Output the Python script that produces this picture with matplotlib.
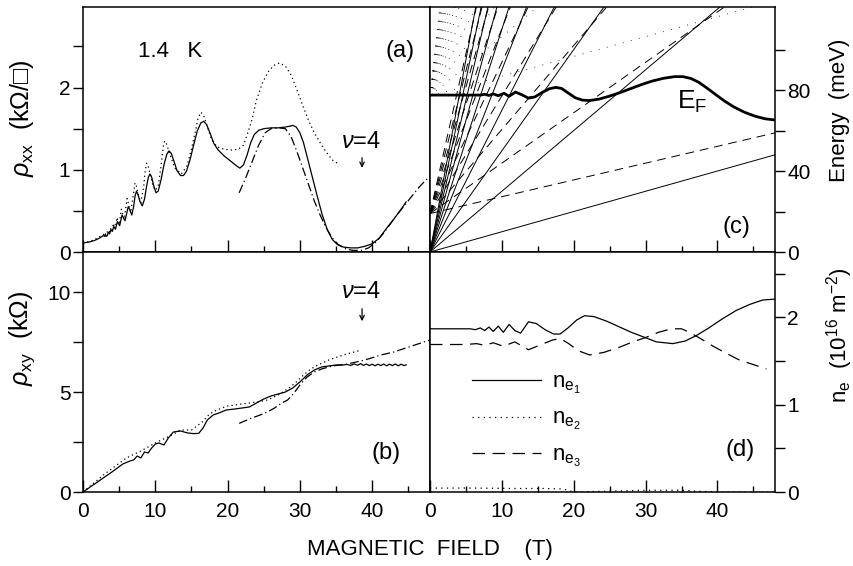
import matplotlib.pyplot as plt
from matplotlib.ticker import MultipleLocator

plt.rcParams['font.family'] = ['Liberation Sans', 'DejaVu Sans']
plt.rcParams['font.size'] = 15
plt.rcParams['mathtext.fontset'] = 'custom'
plt.rcParams['mathtext.rm'] = 'Liberation Sans'
plt.rcParams['mathtext.it'] = 'Liberation Sans:italic'

# ---------------- (a) rho_xx ----------------
rxx_meas_B = [0, 0.8, 1.6, 2.3, 2.8, 3.0, 3.1, 3.2, 3.37, 3.5, 3.68, 3.85, 4.05, 4.26, 4.5,
              4.76, 5.07, 5.4, 5.8, 6.05, 6.25, 6.45, 6.75, 7.0, 7.2, 7.4, 7.6, 7.9, 8.2,
              8.5, 8.8, 9.05, 9.26, 9.5, 9.8, 10.1, 10.4, 10.8, 11.2, 11.6, 11.9, 12.2,
              12.6, 13.0, 13.5, 13.9, 14.3, 14.8, 15.3, 15.8, 16.3, 16.7, 17.1, 17.6, 18.1,
              18.7, 19.5, 20.5, 21.2, 21.7, 22.2, 22.7, 23.2, 23.7, 24.3, 25.0, 26.0, 27.0,
              28.0, 28.6, 29.0, 29.5, 30.0, 30.5, 31.0, 31.7, 32.4, 33.1, 33.8, 34.5, 35.2,
              36.0, 37.0, 38.0, 39.0, 40.0, 41.0, 42.0, 43.0, 44.0, 44.7]
rxx_meas = [0.11, 0.12, 0.14, 0.17, 0.20, 0.19, 0.22, 0.19, 0.20, 0.24, 0.22, 0.27, 0.25,
            0.31, 0.28, 0.37, 0.32, 0.45, 0.38, 0.47, 0.55, 0.52, 0.45, 0.55, 0.68, 0.74,
            0.70, 0.61, 0.56, 0.64, 0.80, 0.91, 0.95, 0.91, 0.80, 0.72, 0.74, 0.88, 1.06,
            1.19, 1.23, 1.20, 1.10, 0.99, 0.93, 0.93, 0.98, 1.12, 1.30, 1.47, 1.57, 1.59,
            1.55, 1.44, 1.32, 1.24, 1.17, 1.10, 1.05, 1.02, 1.06, 1.18, 1.33, 1.43, 1.48,
            1.50, 1.51, 1.51, 1.52, 1.53, 1.54, 1.52, 1.45, 1.33, 1.16, 0.92, 0.68, 0.45,
            0.27, 0.15, 0.09, 0.06, 0.05, 0.05, 0.07, 0.10, 0.17, 0.29, 0.40, 0.52, 0.61]

rxx_dot_B = [0, 1.0, 2.0, 2.8, 3.3, 3.45, 3.6, 3.8, 4.0, 4.2, 4.45, 4.7, 5.0, 5.3, 5.7,
             6.1, 6.6, 7.0, 7.2, 7.4, 7.7, 8.0, 8.4, 8.6, 8.8, 9.0, 9.3, 9.7, 10.0, 10.4,
             10.8, 11.1, 11.3, 11.5, 11.9, 12.7, 13.6, 14.4, 15.0, 15.5, 15.9, 16.3, 16.7,
             17.2, 17.8, 18.5, 19.5, 20.5, 21.5, 22.2, 22.8, 23.4, 24.0, 24.8, 25.6, 26.4,
             27.2, 28.0, 28.8, 29.6, 30.4, 31.2, 32.0, 32.8, 33.6, 34.5, 35.5]
rxx_dot = [0.11, 0.13, 0.17, 0.21, 0.24, 0.25, 0.23, 0.29, 0.25, 0.35, 0.28, 0.42, 0.33,
           0.52, 0.40, 0.65, 0.48, 0.72, 0.84, 0.80, 0.68, 0.60, 0.80, 0.98, 1.08, 1.05,
           0.95, 0.80, 0.75, 0.80, 1.05, 1.28, 1.35, 1.33, 1.22, 1.02, 0.95, 1.05, 1.25,
           1.45, 1.62, 1.70, 1.66, 1.52, 1.37, 1.28, 1.25, 1.24, 1.25, 1.30, 1.45, 1.62,
           1.85, 2.05, 2.19, 2.27, 2.30, 2.26, 2.15, 1.97, 1.78, 1.60, 1.45, 1.33, 1.22,
           1.12, 1.06]

rxx_dd_B = [21.6, 22.5, 23.4, 24.3, 25.2, 26.0, 27.0, 28.0, 28.8, 29.6, 30.4, 31.2, 32.0,
            32.8, 33.6, 34.4, 35.3, 36.3, 37.3, 38.5, 39.5, 40.5, 41.5, 42.5, 43.5, 44.5,
            45.5, 46.5, 47.5, 48.0]
rxx_dd = [0.72, 0.90, 1.10, 1.30, 1.45, 1.50, 1.51, 1.50, 1.40, 1.22, 1.02, 0.82, 0.62,
          0.45, 0.30, 0.18, 0.09, 0.04, 0.02, 0.02, 0.05, 0.12, 0.22, 0.34, 0.46, 0.57,
          0.68, 0.79, 0.88, 0.92]

# ---------------- (b) rho_xy ----------------
rxy_meas_B = [0, 2, 4, 5.5, 6.5, 7.0, 7.5, 8.0, 8.5, 9.0, 9.5, 10.0, 10.5, 11.2, 11.8, 12.5,
              13.5, 14.5, 15.3, 16.0, 16.6, 17.2, 18.0, 18.8, 19.8, 21.0, 22.0, 23.0, 24.0,
              25.0, 26.0, 27.0, 28.0, 29.0, 30.0, 31.0, 32.0, 33.0, 34.0, 35.0, 36.0, 36.5,
              37.0, 37.5, 38.0, 38.4, 38.8, 39.2, 39.6, 40.0, 40.4, 40.8, 41.2, 41.6, 42.0,
              42.4, 42.8, 43.2, 43.6, 44.0, 44.4, 44.7]
rxy_meas = [0, 0.5, 1.0, 1.4, 1.55, 1.6, 1.8, 1.7, 2.0, 1.95, 2.2, 2.4, 2.45, 2.35, 2.7, 3.0,
            3.05, 2.95, 2.92, 2.93, 3.2, 3.6, 3.85, 3.95, 4.1, 4.15, 4.2, 4.25, 4.45, 4.65,
            4.8, 4.9, 5.0, 5.2, 5.5, 5.85, 6.1, 6.25, 6.3, 6.35, 6.35, 6.38, 6.33, 6.40,
            6.34, 6.42, 6.33, 6.40, 6.32, 6.39, 6.31, 6.39, 6.32, 6.40, 6.31, 6.39, 6.32,
            6.40, 6.31, 6.39, 6.32, 6.36]

rxy_dot_B = [0, 3, 6, 8, 10, 12, 13.5, 15, 16.5, 17.5, 18.5, 20, 22, 24, 25.5, 27, 28.5,
             29.5, 30.5, 31.5, 32.5, 34, 36, 38.5]
rxy_dot = [0, 0.9, 1.7, 2.05, 2.45, 2.8, 3.1, 3.1, 3.5, 3.9, 4.1, 4.3, 4.4, 4.5, 4.6, 4.85,
           5.2, 5.5, 5.85, 6.15, 6.35, 6.6, 6.85, 7.1]

rxy_dd_B = [21.6, 23.0, 24.5, 25.5, 26.5, 27.5, 28.3, 29.2, 30.1, 31.0, 32.0, 33.0, 34.5,
            36.6, 39.0, 41.2, 43.0, 44.9, 48.0]
rxy_dd = [3.43, 3.65, 3.85, 4.0, 4.2, 4.45, 4.6, 4.95, 5.4, 5.75, 6.0, 6.15, 6.3, 6.4,
          6.6, 6.85, 7.0, 7.23, 7.6]

# ---------------- (c) Landau fan and Fermi energy ----------------
fan1_E0 = 0.0
fan1_slopes = [1.0, 3.0, 5.0, 7.0, 9.0, 11.0, 13.0, 15.0, 17.0, 19.0]
fan2_E0 = 77.0
fan2_slopes = [0.98, 2.94, 4.9, 6.86, 8.82, 10.78, 12.74, 14.7, 16.66, 18.62, 20.58,
               22.54, 24.5, 26.46, 28.42, 30.38, 32.34]
fan3_E0 = 19.0
fan3_slopes = [0.83, 2.49, 4.15, 5.81, 7.47, 9.13, 10.8, 12.5, 14.1, 15.8]

ef_B = [0, 4, 7.0, 7.6, 8.2, 8.8, 9.5, 10.3, 11.0, 11.9, 12.8, 13.7, 14.6, 15.6, 16.6,
        17.5, 18.3, 19.2, 20.2, 21.2, 22.2, 23.5, 25.0, 26.5, 28.0, 29.5, 31.0, 32.5,
        34.0, 35.2, 36.3, 37.4, 38.6, 39.8, 41.0, 42.3, 43.7, 45.2, 46.6, 48.0]
ef_E = [77.5, 77.5, 77.5, 77.9, 77.3, 78.1, 77.2, 78.4, 76.9, 79.0, 77.6, 76.0, 76.6,
        78.8, 80.6, 81.3, 80.8, 78.6, 76.2, 75.0, 74.8, 75.5, 77.0, 78.8, 80.8, 82.8,
        84.5, 85.8, 86.6, 86.6, 85.7, 83.8, 80.8, 77.6, 74.5, 71.6, 69.1, 67.1, 65.8,
        65.2]

# ---------------- (d) subband densities ----------------
ne1_B = [0, 5.6, 6.3, 7.0, 7.6, 8.2, 8.8, 9.5, 10.2, 11.0, 11.8, 12.6, 13.7, 14.8, 16.0,
         17.2, 18.1, 19.2, 20.4, 21.5, 22.8, 24.5, 26.4, 28.0, 29.6, 31.5, 33.8, 35.5,
         37.0, 38.8, 40.6, 42.6, 44.5, 46.3, 47.9]
ne1 = [1.87, 1.87, 1.86, 1.88, 1.85, 1.89, 1.84, 1.90, 1.83, 1.92, 1.85, 1.82, 1.95,
       1.93, 1.86, 1.81, 1.81, 1.88, 1.97, 2.02, 2.01, 1.96, 1.89, 1.83, 1.78, 1.72,
       1.70, 1.73, 1.79, 1.88, 1.98, 2.08, 2.15, 2.20, 2.21]
ne2_B = [0, 6, 12, 16, 18.5, 20, 25, 30, 35, 37, 40, 48]
ne2 = [0.045, 0.045, 0.04, 0.04, 0.035, 0.0, 0.01, 0.02, 0.02, 0.01, 0.0, 0.0]
ne3_B = [0, 4.9, 6.5, 7.6, 8.8, 10.2, 11.8, 13.7, 15.5, 17.0, 18.1, 19.3, 20.6, 22.2,
         24.2, 26.4, 28.2, 30.0, 31.8, 33.6, 35.0, 36.1, 37.8, 39.4, 41.2, 43.1, 45.0,
         46.8]
ne3 = [1.69, 1.69, 1.70, 1.68, 1.71, 1.67, 1.72, 1.63, 1.69, 1.74, 1.76, 1.70, 1.62,
       1.57, 1.60, 1.66, 1.72, 1.77, 1.83, 1.87, 1.87, 1.83, 1.75, 1.67, 1.59, 1.51,
       1.46, 1.41]

W, H = 854, 566


def box(x0, y0, x1, y1):
    return [x0 / W, 1 - y1 / H, (x1 - x0) / W, (y1 - y0) / H]


fig = plt.figure(figsize=(W / 100, H / 100), dpi=100)
ax_a = fig.add_axes(box(83, 7, 430, 252))
ax_b = fig.add_axes(box(83, 252, 430, 492))
ax_c = fig.add_axes(box(430, 7, 775, 252))
ax_d = fig.add_axes(box(430, 252, 775, 492))

dotted = (0, (1, 2.5))
dashdot = (0, (7, 2.5, 1, 2.5))

# (a)
ax_a.plot(rxx_meas_B, rxx_meas, 'k-', lw=0.9)
ax_a.plot(rxx_dot_B, rxx_dot, color='k', ls=dotted, lw=0.9)
ax_a.plot(rxx_dd_B, rxx_dd, color='k', ls=dashdot, lw=0.9)
ax_a.set_ylim(0, 2.98)
ax_a.set_yticks([0, 1, 2])
ax_a.set_yticks([0.5, 1.5, 2.5], minor=True)
ax_a.text(7.6, 2.44, '1.4   K', ha='left', va='center', fontsize=16)
ax_a.text(43.8, 2.44, '(a)', ha='center', va='center', fontsize=17)
ax_a.text(38.5, 1.34, r'$\nu$=4', ha='center', va='center', fontsize=17)
ax_a.annotate('', xy=(38.6, 0.99), xytext=(38.6, 1.18),
              arrowprops=dict(arrowstyle='->', lw=0.9, color='k', mutation_scale=8))

# (b)
ax_b.plot(rxy_meas_B, rxy_meas, 'k-', lw=0.9)
ax_b.plot(rxy_dot_B, rxy_dot, color='k', ls=dotted, lw=0.9)
ax_b.plot(rxy_dd_B, rxy_dd, color='k', ls=dashdot, lw=0.9)
ax_b.set_ylim(0, 12)
ax_b.set_yticks([0, 5, 10])
ax_b.set_yticks([2.5, 7.5], minor=True)
ax_b.text(41.9, 1.95, '(b)', ha='center', va='center', fontsize=17)
ax_b.text(38.5, 10.0, r'$\nu$=4', ha='center', va='center', fontsize=17)
ax_b.annotate('', xy=(38.6, 8.4), xytext=(38.6, 9.3),
              arrowprops=dict(arrowstyle='->', lw=0.9, color='k', mutation_scale=8))

# (c) Landau levels of the three subbands, then E_F on top
B_span = [0, 48]
for s in fan1_slopes:
    ax_c.plot(B_span, [fan1_E0, fan1_E0 + s * 48], 'k-', lw=0.7)
for s in fan3_slopes:
    ax_c.plot(B_span, [fan3_E0, fan3_E0 + s * 48], color='k', ls=(0, (9, 6)), lw=0.7)
for s in fan2_slopes:
    ax_c.plot(B_span, [fan2_E0, fan2_E0 + s * 48], color='k', ls=(0, (1, 9)), lw=0.6)
ax_c.plot(ef_B, ef_E, 'k-', lw=2.0)
ax_c.set_ylim(0, 121)
ax_c.set_yticks([0, 40, 80])
ax_c.set_yticks([20, 60, 100], minor=True)
ax_c.text(34.4, 74, r'E$_{\rm F}$', ha='left', va='center', fontsize=19)
ax_c.text(42.7, 12.3, '(c)', ha='center', va='center', fontsize=17)

# (d)
ax_d.plot(ne1_B, ne1, 'k-', lw=0.9, label=r'n$_{\rm e_1}$')
ax_d.plot(ne2_B, ne2, color='k', ls=(0, (1, 3.5)), lw=0.9, label=r'n$_{\rm e_2}$')
ax_d.plot(ne3_B, ne3, color='k', ls=(0, (10, 6)), lw=0.9, label=r'n$_{\rm e_3}$')
ax_d.set_ylim(0, 2.75)
ax_d.set_yticks([0, 1, 2])
ax_d.set_yticks([0.5, 1.5, 2.5], minor=True)
ax_d.text(43.1, 0.48, '(d)', ha='center', va='center', fontsize=17)
ax_d.legend(loc='upper left', bbox_to_anchor=(0.122, 0.50), frameon=False,
            handlelength=3.1, handletextpad=0.5, labelspacing=0.55,
            borderpad=0, borderaxespad=0, fontsize=16)

# shared axis styling
for ax in (ax_a, ax_b, ax_c, ax_d):
    ax.set_xlim(0, 48)
    ax.xaxis.set_major_locator(MultipleLocator(10))
    ax.xaxis.set_minor_locator(MultipleLocator(5))
    ax.tick_params(axis='x', which='major', direction='in', length=8.5, width=1.0,
                   top=False, pad=7)
    ax.tick_params(axis='x', which='minor', direction='in', length=4, width=1.0, top=False)
    ax.tick_params(axis='y', which='both', direction='out', length=7, width=1.0, pad=2)
    for sp in ax.spines.values():
        sp.set_linewidth(1.1)

for ax in (ax_a, ax_c):
    ax.tick_params(axis='x', labelbottom=False)
for ax in (ax_c, ax_d):
    ax.tick_params(axis='y', which='both', left=False, labelleft=False,
                   right=True, labelright=True)

fig.text(22 / W, 1 - 118 / H, r'$\rho_{\rm xx}$  (k$\Omega$/□)', rotation=90,
         ha='center', va='center', fontsize=18)
fig.text(22 / W, 1 - 338 / H, r'$\rho_{\rm xy}$  (k$\Omega$)', rotation=90,
         ha='center', va='center', fontsize=18)
fig.text(840 / W, 1 - 110 / H, 'Energy  (meV)', rotation=90, ha='center', va='center',
         fontsize=16)
fig.text(840 / W, 1 - 335 / H, r'n$_{\rm e}$  (10$^{16}$ m$^{-2}$)', rotation=90,
         ha='center', va='center', fontsize=16)
fig.text(430 / W, 1 - 550 / H, 'MAGNETIC  FIELD    (T)', ha='center', va='center',
         fontsize=16)

fig.savefig('out.png', dpi=100)
